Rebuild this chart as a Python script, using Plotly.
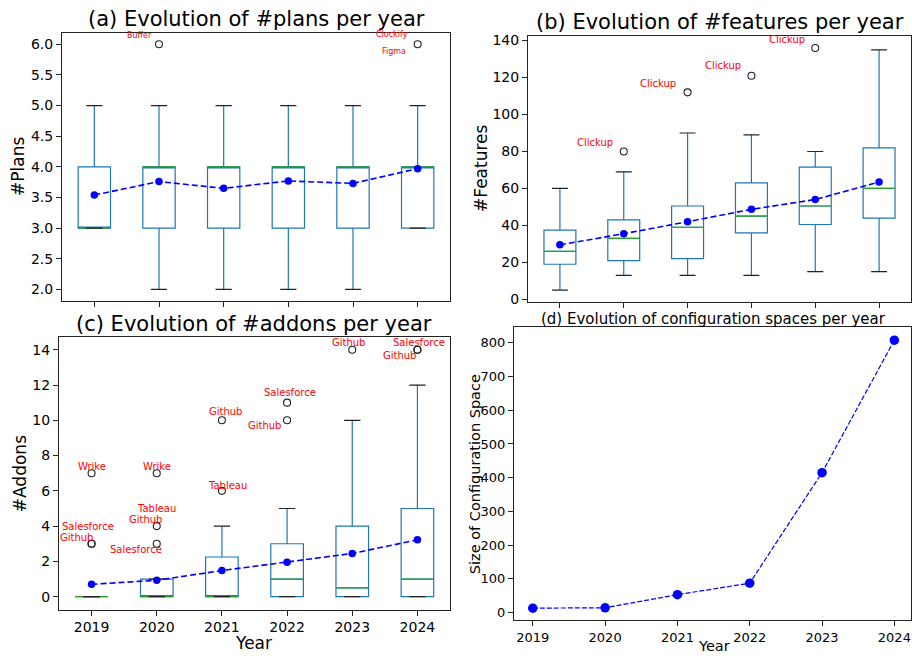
import plotly.graph_objects as go

years = [2019, 2020, 2021, 2022, 2023, 2024]
pos = [1, 2, 3, 4, 5, 6]

# (a) plans
plans_low = [3, 2, 2, 2, 2, 3]
plans_q1 = [3, 3, 3, 3, 3, 3]
plans_med = [3, 4, 4, 4, 4, 4]
plans_q3 = [4, 4, 4, 4, 4, 4]
plans_high = [5, 5, 5, 5, 5, 5]
plans_mean = [3.54, 3.76, 3.65, 3.77, 3.73, 3.97]
plans_out_pos = [2, 6]
plans_out_val = [6, 6]
plans_lab_text = ["Buffer", "Clockify", "Figma"]
plans_lab_pos = [2, 6, 6]
plans_lab_val = [6, 6, 6]

# (b) features
feat_low = [5, 13, 13, 13, 15, 15]
feat_q1 = [19, 21, 22, 36, 40.5, 44]
feat_med = [26, 33, 39, 45, 50.5, 60]
feat_q3 = [37.5, 43, 50.5, 63, 71.5, 82]
feat_high = [60, 69, 90, 89, 80, 135]
feat_mean = [29.5, 35.5, 42, 48.7, 54, 63.5]
feat_out_pos = [2, 3, 4, 5]
feat_out_val = [80, 112, 121, 136]
feat_lab_text = ["Clickup", "Clickup", "Clickup", "Clickup"]
feat_lab_pos = [2, 3, 4, 5]
feat_lab_val = [80, 112, 121, 136]

# (c) addons
add_low = [0, 0, 0, 0, 0, 0]
add_q1 = [0, 0, 0, 0, 0, 0]
add_med = [0, 0, 0, 1, 0.5, 1]
add_q3 = [0, 1, 2.25, 3, 4, 5]
add_high = [0, 1, 4, 5, 10, 12]
add_mean = [0.7, 0.93, 1.48, 1.95, 2.45, 3.22]
add_out_pos = [1, 1, 1, 2, 2, 2, 3, 3, 4, 4, 5, 6, 6]
add_out_val = [7, 3, 3, 7, 4, 3, 10, 6, 11, 10, 14, 14, 14]
add_lab_text = ["Wrike", "Salesforce", "Github", "Wrike", "Tableau", "Github", "Salesforce",
                "Github", "Tableau", "Salesforce", "Github", "Github", "Salesforce", "Github"]
add_lab_pos = [1, 1, 1, 2, 2, 2, 2, 3, 3, 4, 4, 5, 6, 6]
add_lab_val = [7, 3, 3, 7, 4, 4, 3, 10, 6, 11, 10, 14, 14, 14]

# (d) configuration space
conf_size = [13, 14, 53, 87, 415, 808]

# label offsets (placement only)
plans_off = [(-0.30, 0.15), (-0.39, 0.16), (-0.37, -0.11)]
feat_off = [(-0.45, 5.0), (-0.47, 5.0), (-0.45, 5.3), (-0.45, 4.4)]
add_off = [(0, 0.4), (-0.05, 0.98), (-0.23, 0.36), (0, 0.4), (0, 1.0), (-0.17, 0.37),
           (-0.32, -0.3), (0.05, 0.49), (0.08, 0.33), (0.04, 0.59), (-0.35, -0.31),
           (-0.06, 0.43), (0.02, 0.43), (-0.28, -0.34)]

C0 = "#1f77b4"
C2 = "#2ca02c"
BLUE = "#0000ff"
FONT = "DejaVu Sans"
BW = 0.5
CW = 0.25

fig = go.Figure()


def segs(centers, vals, half):
    xs, ys = [], []
    for c, v in zip(centers, vals):
        xs += [c - half, c + half, None]
        ys += [v, v, None]
    return xs, ys


def add_box_panel(xa, ya, low, q1, med, q3, high, mean, opos, oval):
    fig.add_trace(go.Box(x=pos, q1=q1, median=med, q3=q3, lowerfence=low, upperfence=high,
                         width=BW, whiskerwidth=0, fillcolor="rgba(0,0,0,0)",
                         line=dict(color=C0, width=1.2), boxpoints=False,
                         xaxis=xa, yaxis=ya, showlegend=False, hoverinfo="skip"))
    mx, my = segs(pos, med, BW / 2)
    fig.add_trace(go.Scatter(x=mx, y=my, mode="lines", line=dict(color=C2, width=1.2),
                             xaxis=xa, yaxis=ya, showlegend=False, hoverinfo="skip"))
    cx1, cy1 = segs(pos, low, CW / 2)
    cx2, cy2 = segs(pos, high, CW / 2)
    fig.add_trace(go.Scatter(x=cx1 + cx2, y=cy1 + cy2, mode="lines",
                             line=dict(color="#222222", width=1.2),
                             xaxis=xa, yaxis=ya, showlegend=False, hoverinfo="skip"))
    fig.add_trace(go.Scatter(x=pos, y=mean, mode="lines+markers",
                             line=dict(color=BLUE, width=1.6, dash="6px,3px"),
                             marker=dict(color=BLUE, size=7.5),
                             xaxis=xa, yaxis=ya, showlegend=False, hoverinfo="skip"))
    fig.add_trace(go.Scatter(x=opos, y=oval, mode="markers",
                             marker=dict(symbol="circle-open", color="#222222", size=7,
                                         line=dict(width=1.1)),
                             xaxis=xa, yaxis=ya, showlegend=False, hoverinfo="skip"))


add_box_panel("x", "y", plans_low, plans_q1, plans_med, plans_q3, plans_high, plans_mean,
              plans_out_pos, plans_out_val)
add_box_panel("x2", "y2", feat_low, feat_q1, feat_med, feat_q3, feat_high, feat_mean,
              feat_out_pos, feat_out_val)
add_box_panel("x3", "y3", add_low, add_q1, add_med, add_q3, add_high, add_mean,
              add_out_pos, add_out_val)

fig.add_trace(go.Scatter(x=years, y=conf_size, mode="lines+markers",
                         line=dict(color=BLUE, width=1.2, dash="5px,2px"),
                         marker=dict(color=BLUE, size=9.5),
                         xaxis="x4", yaxis="y4", showlegend=False, hoverinfo="skip"))

annotations = []


def labels(xr, yr, texts, lpos, lval, offs, size):
    for t, p, v, (dx, dy) in zip(texts, lpos, lval, offs):
        annotations.append(dict(x=p + dx, y=v + dy, xref=xr, yref=yr, text=t, showarrow=False,
                                xanchor="center", yanchor="middle",
                                font=dict(family=FONT, size=size, color="#ff0000")))


labels("x", "y", plans_lab_text, plans_lab_pos, plans_lab_val, plans_off, 8)
labels("x2", "y2", feat_lab_text, feat_lab_pos, feat_lab_val, feat_off, 10)
labels("x3", "y3", add_lab_text, add_lab_pos, add_lab_val, add_off, 10)

W, H = 912, 658


def paper_text(text, px, py, size, angle=0):
    annotations.append(dict(x=px / W, y=1 - py / H, xref="paper", yref="paper", text=text,
                            showarrow=False, xanchor="center", yanchor="middle",
                            textangle=angle, font=dict(family=FONT, size=size, color="black")))


paper_text("(a) Evolution of #plans per year", 256, 16, 21)
paper_text("(b) Evolution of #features per year", 720, 19, 21)
paper_text("(c) Evolution of #addons per year", 254, 325, 21)
paper_text("(d) Evolution of configuration spaces per year", 713, 320, 15)
paper_text("#Plans", 18, 166, 17, -90)
paper_text("#Features", 481, 168, 17, -90)
paper_text("#Addons", 20, 477, 17, -90)
paper_text("Size of Configuration Space", 475, 477, 14.5, -90)
paper_text("Year", 254, 648, 17)
paper_text("Year", 714, 651, 14.5)

axis_common = dict(showline=True, mirror=True, linecolor="#222222", linewidth=1,
                   ticks="outside", ticklen=5, tickwidth=1, tickcolor="#222222",
                   showgrid=False, zeroline=False)


def dom(x0, x1, y0, y1):
    return [x0 / W, x1 / W], [1 - y1 / H, 1 - y0 / H]


da = dom(62, 450, 30, 302)
db = dom(528, 911, 33, 303)
dc = dom(59, 450, 338, 614)
dd = dom(514, 911, 328, 625)

fig.update_layout(
    width=W, height=H, margin=dict(l=0, r=0, t=0, b=0),
    plot_bgcolor="white", paper_bgcolor="white",
    font=dict(family=FONT, color="black"),
    annotations=annotations,
    xaxis=dict(domain=da[0], anchor="y", range=[0.5, 6.5], tickvals=pos, showticklabels=False,
               **axis_common),
    yaxis=dict(domain=da[1], anchor="x", range=[1.806, 6.19], tickvals=[2, 2.5, 3, 3.5, 4, 4.5, 5, 5.5, 6],
               ticktext=["2.0", "2.5", "3.0", "3.5", "4.0", "4.5", "5.0", "5.5", "6.0"],
               tickfont=dict(size=14), **axis_common),
    xaxis2=dict(domain=db[0], anchor="y2", range=[0.5, 6.5], tickvals=pos, showticklabels=False,
                **axis_common),
    yaxis2=dict(domain=db[1], anchor="x2", range=[-1.6, 142.7], tickvals=[0, 20, 40, 60, 80, 100, 120, 140],
                tickfont=dict(size=14), **axis_common),
    xaxis3=dict(domain=dc[0], anchor="y3", range=[0.5, 6.5], tickvals=pos, ticktext=[str(y) for y in years],
                tickfont=dict(size=14), **axis_common),
    yaxis3=dict(domain=dc[1], anchor="x3", range=[-0.73, 14.73], tickvals=[0, 2, 4, 6, 8, 10, 12, 14],
                tickfont=dict(size=14), **axis_common),
    xaxis4=dict(domain=dd[0], anchor="y4", range=[2018.74, 2024.23], tickvals=years,
                tickfont=dict(size=13), **axis_common),
    yaxis4=dict(domain=dd[1], anchor="x4", range=[-23.4, 847], tickvals=[0, 100, 200, 300, 400, 500, 600, 700, 800],
                tickfont=dict(size=13), **axis_common),
)

fig.write_html("out.html", config={"displayModeBar": False},
               post_script="document.body.style.margin='0';")
